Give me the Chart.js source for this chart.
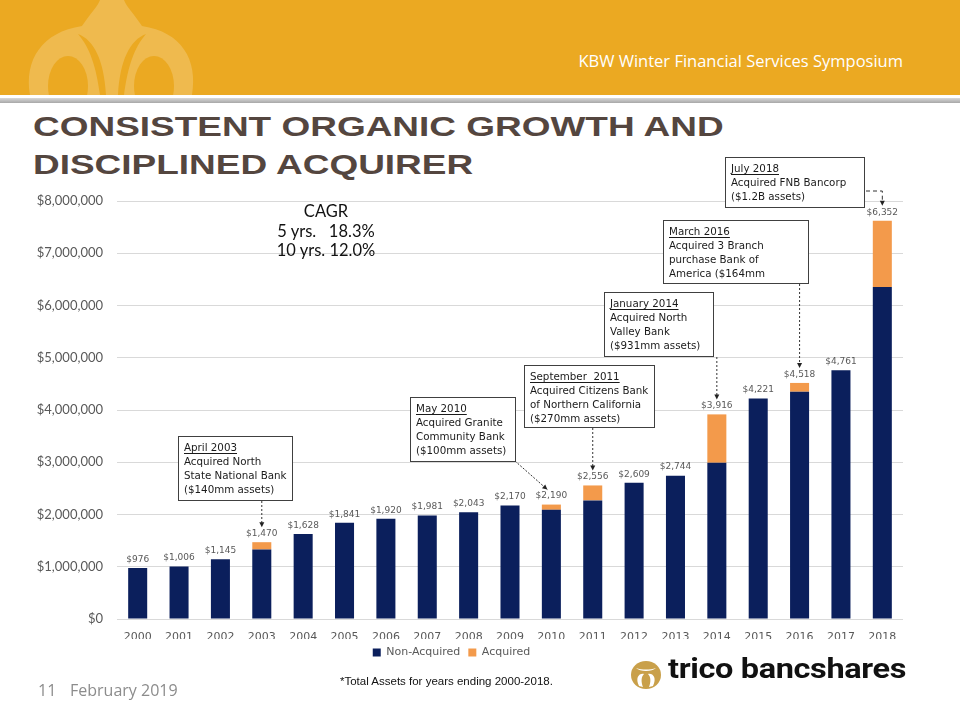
<!DOCTYPE html>
<html>
<head>
<meta charset="utf-8">
<script src="https://cdn.jsdelivr.net/npm/chart.js@4.4.1/dist/chart.umd.min.js"></script>
<style>
  body { margin: 0; width: 960px; height: 720px; position: relative; overflow: hidden; background: #fff; font-family: "Liberation Sans", Arial, sans-serif; }
  #band { position: absolute; left: 0; top: 0; width: 960px; height: 95px; background: #EBA922; }
  #band svg { position: absolute; left: 20px; top: 0; }
  #rule { position: absolute; left: 0; top: 98px; width: 960px; height: 5px; background: linear-gradient(#d8d8d8, #a8a8a8); }
  #event { position: absolute; right: 57px; top: 49px; color: #fff; font: 16.5px "Open Sans", sans-serif; }
  #title { position: absolute; left: 33px; top: 108px; font: bold 28px/38px "Liberation Sans", Arial, sans-serif; color: #54463f; transform: scaleX(1.32); transform-origin: left top; white-space: nowrap; }
  #cagr { position: absolute; left: 246px; top: 202px; width: 160px; text-align: center; font: 16.5px/19.5px Lato, sans-serif; color: #111; white-space: pre; }
  #chart { position: absolute; left: 0; top: 150px; }
  #pageno { position: absolute; left: 38px; top: 679px; font: 16px "Open Sans", sans-serif; color: #8c8c8c; }
  #date { position: absolute; left: 70px; top: 679px; font: 16px "Open Sans", sans-serif; color: #8c8c8c; }
  #note { position: absolute; left: 340px; top: 675px; font: 11.5px "Liberation Sans", Arial, sans-serif; color: #111; }
  #logo { position: absolute; left: 630px; top: 654px; height: 40px; }
  #logo svg { position: absolute; left: 0; top: 6px; }
  #logo span { position: absolute; left: 38px; top: -2px; font: bold 28px Roboto, sans-serif; color: #111; letter-spacing: -0.3px; white-space: nowrap; transform: scaleX(1.16); transform-origin: left top; }
</style>
</head>
<body>
<div id="band">
  <svg width="180" height="95" viewBox="0 0 180 95">
    <path d="M10 95 C4 60 22 32 62 26 C70 14 78 6 80 0 L104 0 C106 6 114 14 122 26 C162 32 178 60 172 95 Z" fill="rgba(255,255,255,0.2)"/>
    <ellipse cx="48" cy="86" rx="20" ry="30" fill="#EBA922"/>
    <ellipse cx="134" cy="86" rx="20" ry="30" fill="#EBA922"/>
    <path d="M58 34 C74 40 84 60 86 95 L80 95 C76 66 70 48 58 34 Z" fill="#EBA922"/>
    <path d="M126 34 C110 40 100 60 98 95 L104 95 C108 66 114 48 126 34 Z" fill="#EBA922"/>
  </svg>
  <div id="event">KBW Winter Financial Services Symposium</div>
</div>
<div id="rule"></div>
<div id="title">CONSISTENT ORGANIC GROWTH AND<br>DISCIPLINED ACQUIRER</div>
<canvas id="chart" width="960" height="530"></canvas>
<div id="cagr">CAGR
5 yrs.   18.3%
10 yrs. 12.0%</div>
<div id="pageno">11</div>
<div id="date">February 2019</div>
<div id="note">*Total Assets for years ending 2000-2018.</div>
<div id="logo">
  <svg width="32" height="30" viewBox="0 0 32 30">
    <ellipse cx="16" cy="15" rx="15" ry="14" fill="#C9A04A"/>
    <path d="M6 8 C12 10 20 10 26 8 C22 12 10 12 6 8 Z" fill="#fff"/>
    <path d="M9 26 C5 18 9 13 14 14 C11 17 11 22 13 27 Z" fill="#fff"/>
    <path d="M23 26 C27 18 23 13 18 14 C21 17 21 22 19 27 Z" fill="#fff"/>
  </svg>
  <span>trico bancshares</span>
</div>

<script>
// Valores en miles de dólares
const years = ['2000','2001','2002','2003','2004','2005','2006','2007','2008','2009','2010','2011','2012','2013','2014','2015','2016','2017','2018'];
const nonAcquired = [976, 1006, 1145, 1330, 1628, 1841, 1920, 1981, 2043, 2170, 2090, 2270, 2609, 2744, 2990, 4221, 4350, 4761, 6352];
const acquired = [0, 0, 0, 140, 0, 0, 0, 0, 0, 0, 100, 286, 0, 0, 926, 0, 168, 0, 1270];
const totalLabels = [976, 1006, 1145, 1470, 1628, 1841, 1920, 1981, 2043, 2170, 2190, 2556, 2609, 2744, 3916, 4221, 4518, 4761, 6352];
const yTicks = [0, 1000, 2000, 3000, 4000, 5000, 6000, 7000, 8000];

const CANVAS_TOP = 150;

// Cajas de adquisiciones (posición en la página)
const notes = [
  { box: [178, 436, 114, 64], lines: ['April 2003', 'Acquired North', 'State National Bank', '($140mm assets)'], idx: 3, type: 'down' },
  { box: [410, 397, 105, 64], lines: ['May 2010', 'Acquired Granite', 'Community Bank', '($100mm assets)'], idx: 10, type: 'diag' },
  { box: [524, 365, 130, 62], lines: ['September  2011', 'Acquired Citizens Bank', 'of Northern California', '($270mm assets)'], idx: 11, type: 'down' },
  { box: [604, 292, 109, 64], lines: ['January 2014', 'Acquired North', 'Valley Bank', '($931mm assets)'], idx: 14, type: 'down' },
  { box: [663, 220, 145, 63], lines: ['March 2016', 'Acquired 3 Branch', 'purchase Bank of', 'America ($164mm'], idx: 16, type: 'down' },
  { box: [725, 157, 139, 50], lines: ['July 2018', 'Acquired FNB Bancorp', '($1.2B assets)'], idx: 18, type: 'elbow' }
];

function arrowHead(ctx, x, y, dx, dy) {
  const len = Math.hypot(dx, dy);
  const ux = dx / len, uy = dy / len;
  ctx.beginPath();
  ctx.moveTo(x, y);
  ctx.lineTo(x - ux * 5 - uy * 2.5, y - uy * 5 + ux * 2.5);
  ctx.lineTo(x - ux * 5 + uy * 2.5, y - uy * 5 - ux * 2.5);
  ctx.closePath();
  ctx.fill();
}

const labelPlugin = {
  id: 'labels',
  afterDatasetsDraw(chart) {
    const ctx = chart.ctx;
    const xs = chart.scales.x, ys = chart.scales.y;
    ctx.save();
    ctx.font = '9px "DejaVu Sans"';
    ctx.fillStyle = '#595959';
    ctx.textAlign = 'center';
    ctx.textBaseline = 'bottom';
    years.forEach((y, i) => {
      const top = ys.getPixelForValue(nonAcquired[i] + acquired[i]);
      ctx.fillText('$' + totalLabels[i].toLocaleString('en-US'), xs.getPixelForValue(i), top - 4);
    });

    // Cajas y flechas
    notes.forEach(n => {
      const [bx, by, bw, bh] = n.box;
      const x = bx, y = by - CANVAS_TOP;
      ctx.fillStyle = '#fff';
      ctx.fillRect(x, y, bw, bh);
      ctx.strokeStyle = '#404040';
      ctx.lineWidth = 1;
      ctx.setLineDash([]);
      ctx.strokeRect(x + 0.5, y + 0.5, bw, bh);
      ctx.font = '10.3px "DejaVu Sans"';
      ctx.fillStyle = '#1a1a1a';
      ctx.textAlign = 'left';
      ctx.textBaseline = 'alphabetic';
      n.lines.forEach((t, k) => {
        const ty = y + 15 + k * 14;
        ctx.fillText(t, x + 6, ty);
        if (k === 0) {
          const w = ctx.measureText(t).width;
          ctx.fillRect(x + 6, ty + 2, w, 1);
        }
      });

      const bxp = xs.getPixelForValue(n.idx);
      const tip = ys.getPixelForValue(nonAcquired[n.idx] + acquired[n.idx]) - 15;
      ctx.strokeStyle = '#333';
      ctx.fillStyle = '#222';
      if (n.type === 'down') {
        ctx.setLineDash([2, 2]);
        ctx.beginPath();
        ctx.moveTo(bxp, y + bh + 1);
        ctx.lineTo(bxp, tip - 4);
        ctx.stroke();
        arrowHead(ctx, bxp, tip, 0, 1);
      } else if (n.type === 'diag') {
        const sx = x + bw, sy = y + bh;
        const tx = bxp - 4;
        ctx.setLineDash([2, 1.5]);
        ctx.beginPath();
        ctx.moveTo(sx, sy);
        ctx.lineTo(tx, tip);
        ctx.stroke();
        arrowHead(ctx, tx, tip, tx - sx, tip - sy);
      } else {
        const sy = y + 34;
        ctx.setLineDash([4, 3]);
        ctx.beginPath();
        ctx.moveTo(x + bw + 2, sy);
        ctx.lineTo(bxp, sy);
        ctx.lineTo(bxp, tip - 4);
        ctx.stroke();
        arrowHead(ctx, bxp, tip, 0, 1);
      }
    });
    ctx.restore();
  }
};

new Chart(document.getElementById('chart'), {
  type: 'bar',
  data: {
    labels: years,
    datasets: [
      { label: 'Non-Acquired', data: nonAcquired, backgroundColor: '#0B1F5C', borderWidth: 0 },
      { label: 'Acquired', data: acquired, backgroundColor: '#F39A4B', borderWidth: 0 }
    ]
  },
  options: {
    responsive: false,
    animation: false,
    layout: { padding: { top: 51, right: 57, bottom: 12, left: 0 } },
    datasets: { bar: { categoryPercentage: 1, barPercentage: 0.46 } },
    scales: {
      x: {
        stacked: true,
        grid: { display: false },
        border: { display: false },
        afterFit: s => { s.height = 20; },
        ticks: { color: '#595959', font: { family: 'DejaVu Sans', size: 11 }, padding: 4, maxRotation: 0 }
      },
      y: {
        stacked: true,
        min: 0,
        max: 8000,
        afterBuildTicks: s => { s.ticks = yTicks.map(v => ({ value: v })); },
        afterFit: s => { s.width = 117; },
        grid: { color: '#d9d9d9', drawTicks: false },
        border: { display: false },
        ticks: {
          color: '#595959',
          font: { family: 'Lato', size: 13 },
          padding: 14,
          callback: v => '$' + (v * 1000).toLocaleString('en-US')
        }
      }
    },
    plugins: {
      legend: {
        position: 'bottom',
        labels: { boxWidth: 8, boxHeight: 8, padding: 8, color: '#595959', font: { family: 'DejaVu Sans', size: 11 } }
      },
      tooltip: { enabled: false }
    }
  },
  plugins: [labelPlugin]
});
</script>
</body>
</html>
